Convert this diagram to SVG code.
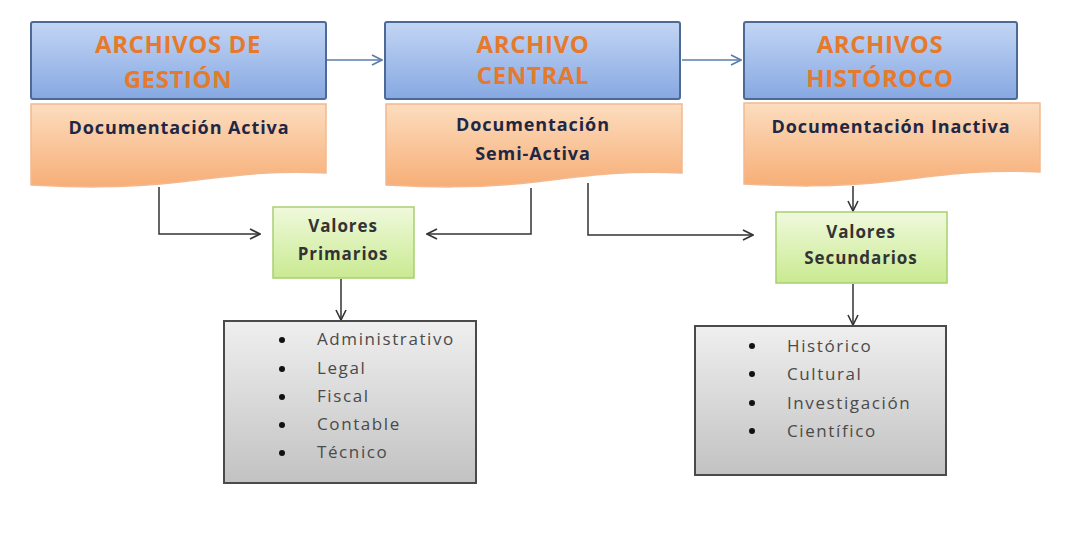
<svg xmlns="http://www.w3.org/2000/svg" width="1086" height="544" viewBox="0 0 1086 544">
<defs>
<linearGradient id="gBlue" x1="0" y1="0" x2="0" y2="1"><stop offset="0" stop-color="#C3D5F4"/><stop offset="1" stop-color="#86A8E2"/></linearGradient>
<linearGradient id="gOrange" x1="0" y1="0" x2="0" y2="1"><stop offset="0" stop-color="#FCDDBF"/><stop offset="1" stop-color="#F7AE76"/></linearGradient>
<linearGradient id="gGreen" x1="0" y1="0" x2="0" y2="1"><stop offset="0" stop-color="#F0F9DC"/><stop offset="1" stop-color="#C9EA91"/></linearGradient>
<linearGradient id="gGray" x1="0" y1="0" x2="0" y2="1"><stop offset="0" stop-color="#EFEFEF"/><stop offset="1" stop-color="#C2C2C2"/></linearGradient>
<marker id="arr" viewBox="0 0 12 12" refX="11" refY="6" markerWidth="12" markerHeight="12" markerUnits="userSpaceOnUse" orient="auto"><path d="M1,1 L11,6 L1,11" fill="none" stroke="#333" stroke-width="1.6"/></marker>
<marker id="arrB" viewBox="0 0 12 12" refX="11" refY="6" markerWidth="12" markerHeight="12" markerUnits="userSpaceOnUse" orient="auto"><path d="M1,1 L11,6 L1,11" fill="none" stroke="#5B7DAE" stroke-width="1.6"/></marker>
</defs>
<style>
.blue{fill:url(#gBlue);stroke:#4D6A97;stroke-width:2}
.doc{fill:url(#gOrange);stroke:#F2B990;stroke-width:1.5}
.green{fill:url(#gGreen);stroke:#A9CF72;stroke-width:1.5}
.gray{fill:url(#gGray);stroke:#4A4A4A;stroke-width:2}
.title{font-family:"Open Sans","Liberation Sans",sans-serif;font-weight:bold;font-size:24px;letter-spacing:0.6px;fill:#E57A2C;text-anchor:middle}
.dtxt{font-family:"Open Sans","Liberation Sans",sans-serif;font-weight:bold;font-size:18px;letter-spacing:0.9px;fill:#1E2744;text-anchor:middle}
.gtxt{font-family:"Open Sans","Liberation Sans",sans-serif;font-weight:bold;font-size:17px;letter-spacing:0.9px;fill:#333;text-anchor:middle}
.ltxt{font-family:"Open Sans","Liberation Sans",sans-serif;font-size:17px;letter-spacing:1.6px;fill:#4A4A4A}
.conn{fill:none;stroke:#333;stroke-width:1.5}
.connB{fill:none;stroke:#5B7DAE;stroke-width:1.5}
</style>
<rect width="1086" height="544" fill="#FFFFFF"/>
<g id="connectors">
<path class="connB" d="M327,60 H382" marker-end="url(#arrB)"/>
<path class="connB" d="M682,60 H741" marker-end="url(#arrB)"/>
<path class="conn" d="M159,187 V234 H260" marker-end="url(#arr)"/>
<path class="conn" d="M531,188 V234 H427" marker-end="url(#arr)"/>
<path class="conn" d="M588,183 V235 H753" marker-end="url(#arr)"/>
<path class="conn" d="M853,186 V211" marker-end="url(#arr)"/>
<path class="conn" d="M341,279 V320" marker-end="url(#arr)"/>
<path class="conn" d="M853,284 V325" marker-end="url(#arr)"/>
</g>
<g id="archivos-gestion">
<rect class="blue" x="31" y="22" width="295" height="77" rx="2"/>
<text class="title" x="178" y="53">ARCHIVOS DE</text>
<text class="title" x="178" y="88">GESTIÓN</text>
</g>
<g id="doc-activa">
<path class="doc" d="M31,104 H326 V173 C270,170 230,176 180,182 C120,189 70,187 31,185 Z"/>
<text class="dtxt" x="179" y="134">Documentación Activa</text>
</g>
<g id="archivo-central">
<rect class="blue" x="385" y="22" width="295" height="77" rx="2"/>
<text class="title" x="533" y="53">ARCHIVO</text>
<text class="title" x="533" y="84">CENTRAL</text>
</g>
<g id="doc-semiactiva">
<path class="doc" d="M386,104 H682 V173 C625,170 585,176 535,182 C475,189 425,187 386,185 Z"/>
<text class="dtxt" x="533" y="131">Documentación</text>
<text class="dtxt" x="533" y="160">Semi-Activa</text>
</g>
<g id="archivos-historico">
<rect class="blue" x="744" y="22" width="273" height="77" rx="2"/>
<text class="title" x="880" y="53">ARCHIVOS</text>
<text class="title" x="880" y="87">HISTÓROCO</text>
</g>
<g id="doc-inactiva">
<path class="doc" d="M744,103 H1040 V172 C983,169 943,175 893,181 C833,188 783,186 744,184 Z"/>
<text class="dtxt" x="891" y="133">Documentación Inactiva</text>
</g>
<g id="valores-primarios">
<rect class="green" x="273" y="207" width="141" height="71"/>
<text class="gtxt" x="343" y="232">Valores</text>
<text class="gtxt" x="343" y="260">Primarios</text>
</g>
<g id="valores-secundarios">
<rect class="green" x="776" y="212" width="171" height="71"/>
<text class="gtxt" x="861" y="238">Valores</text>
<text class="gtxt" x="861" y="264">Secundarios</text>
</g>
<g id="lista-primarios">
<rect class="gray" x="224" y="321" width="252" height="162"/>
<g fill="#111"><circle cx="282" cy="340" r="3"/><circle cx="282" cy="369" r="3"/><circle cx="282" cy="397" r="3"/><circle cx="282" cy="425" r="3"/><circle cx="282" cy="453" r="3"/></g>
<text class="ltxt" x="317" y="345">Administrativo</text>
<text class="ltxt" x="317" y="374">Legal</text>
<text class="ltxt" x="317" y="402">Fiscal</text>
<text class="ltxt" x="317" y="430">Contable</text>
<text class="ltxt" x="317" y="458">Técnico</text>
</g>
<g id="lista-secundarios">
<rect class="gray" x="695" y="326" width="251" height="149"/>
<g fill="#111"><circle cx="752" cy="346" r="3"/><circle cx="752" cy="374" r="3"/><circle cx="752" cy="403" r="3"/><circle cx="752" cy="431" r="3"/></g>
<text class="ltxt" x="787" y="352">Histórico</text>
<text class="ltxt" x="787" y="380">Cultural</text>
<text class="ltxt" x="787" y="409">Investigación</text>
<text class="ltxt" x="787" y="437">Científico</text>
</g>
</svg>
